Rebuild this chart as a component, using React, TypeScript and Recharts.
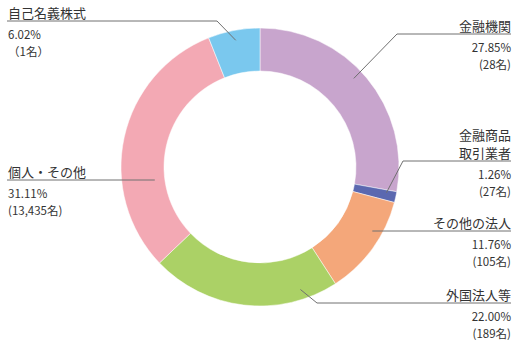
import { PieChart, Pie, Cell } from "recharts";

const names = [["金融機関"], ["金融商品", "取引業者"], ["その他の法人"], ["外国法人等"], ["個人・その他"], ["自己名義株式"]];
const shares = [27.85, 1.26, 11.76, 22.0, 31.11, 6.02];
const holders = ["(28名)", "(27名)", "(105名)", "(189名)", "(13,435名)", "（1名）"];
const colors = ["#c8a5cd", "#5b68b0", "#f4a77a", "#abd166", "#f3a9b4", "#7ac8ee"];

const data = names.map((n, i) => ({ name: n.join(""), value: shares[i] }));

// leader line layout: anchor angle offset from slice middle, anchor radius, elbow x, horizontal line y
const LAYOUT = [
  { off: 3.5, r: 129, side: "right", elbowX: 397, lineY: 34 },
  { off: 1, r: 129, side: "right", elbowX: 403, lineY: 161 },
  { off: 6.5, r: 129, side: "right", elbowX: null, lineY: 231 },
  { off: 25, r: 129, side: "right", elbowX: 317, lineY: 303 },
  { off: 19.3, r: 106, side: "left", elbowX: null, lineY: 180 },
  { off: 0, r: 129, side: "left", elbowX: 217, lineY: 21 },
];

const FONT = "'Noto Sans CJK JP', 'Noto Sans', sans-serif";
const RAD = Math.PI / 180;

function renderLabel(props: any) {
  const { cx, cy, midAngle, index } = props;
  const lay = LAYOUT[index];
  const a = (midAngle + lay.off) * RAD;
  const ax = cx + lay.r * Math.cos(a);
  const ay = cy - lay.r * Math.sin(a);
  const right = lay.side === "right";
  const endX = right ? 511 : 7;
  const tx = right ? 511 : 8;
  const anchor = right ? "end" : "start";
  const pts = lay.elbowX == null
    ? `${ax},${lay.lineY} ${endX},${lay.lineY}`
    : `${ax},${ay} ${lay.elbowX},${lay.lineY} ${endX},${lay.lineY}`;
  const lines = names[index];
  return (
    <g key={`lbl-${index}`}>
      <polyline points={pts} fill="none" stroke="#707070" strokeWidth={1} />
      {lines.map((t, k) => (
        <text key={k} x={tx} y={lay.lineY - 9 - (lines.length - 1 - k) * 18} textAnchor={anchor}
          dominantBaseline="central" fontSize={13} fill="#333" fontFamily={FONT}>{t}</text>
      ))}
      <text x={tx} y={lay.lineY + 12.5} textAnchor={anchor} dominantBaseline="central"
        fontSize={11.5} fill="#333" fontFamily={FONT}>{shares[index].toFixed(2)}%</text>
      <text x={tx} y={lay.lineY + 30} textAnchor={anchor} dominantBaseline="central"
        fontSize={11.5} fill="#333" fontFamily={FONT}>{holders[index]}</text>
    </g>
  );
}

export default function App() {
  return (
    <div style={{ position: "absolute", left: 0, top: 0, width: 519, height: 342, background: "#fff" }}>
      <PieChart width={519} height={342} margin={{ top: 0, right: 0, bottom: 0, left: 0 }}>
        <Pie
          data={data}
          dataKey="value"
          cx={260}
          cy={167}
          innerRadius={96}
          outerRadius={139}
          startAngle={90}
          endAngle={-270}
          stroke="#ffffff"
          strokeWidth={0.5}
          label={renderLabel}
          labelLine={false}
          isAnimationActive={false}
        >
          {data.map((d, i) => (
            <Cell key={d.name} fill={colors[i]} />
          ))}
        </Pie>
      </PieChart>
    </div>
  );
}
